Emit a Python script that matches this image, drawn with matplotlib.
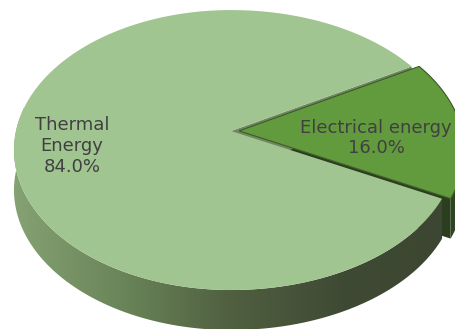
import numpy as np
import matplotlib.pyplot as plt
from matplotlib.patches import Polygon
from matplotlib.colors import LinearSegmentedColormap

# data
labels = ['Electrical energy', 'Thermal\nEnergy']
values = [16.0, 84.0]
top_colors = ['#629a3e', '#a1c591']
explode = [0.036, 0.0]
start_angle = -27.5  # degrees, electrical slice starts here

# geometry of the fake 3d pie (pixels)
cx, cy = 231, 131
rx_left, rx_right = 215, 223
ry = 137.4
k = 0.136      # perspective
depth = 40


def proj(theta, r=1.0, eu=0.0, ev=0.0, dz=0.0):
    t = np.radians(np.atleast_1d(theta))
    u = r * np.cos(t) + eu
    v = r * np.sin(t) + ev
    s = 1.0 / (1.0 + k * v)
    rx = np.where(u < 0, rx_left, rx_right)
    return np.column_stack([cx + rx * u * s, cy - ry * v * s + dz])


def wedge_top(a, b, eu, ev):
    th = np.linspace(a, b, 200)
    rim = proj(th, eu=eu, ev=ev)
    tip = proj(0.0, r=0.0, eu=eu, ev=ev)
    return np.vstack([tip, rim])


def side_band(a, b, eu, ev):
    th = np.linspace(a, b, 200)
    top = proj(th, eu=eu, ev=ev)
    bot = proj(th, eu=eu, ev=ev, dz=depth)
    return np.vstack([top, bot[::-1]])


def cut_face(theta, eu, ev):
    tip = proj(0.0, r=0.0, eu=eu, ev=ev)
    edge = proj(theta, eu=eu, ev=ev)
    return np.vstack([tip, edge, edge + [0, depth], tip + [0, depth]])


fig = plt.figure(figsize=(4.55, 3.29), dpi=100)
ax = fig.add_axes([0, 0, 1, 1])
ax.set_xlim(0, 455)
ax.set_ylim(329, 0)
ax.axis('off')

# slice angles
angles = []
a = start_angle
for v in values:
    b = a + 360 * v / sum(values)
    angles.append((a, b))
    a = b

(ea, eb) = angles[0]
(ta, tb) = angles[1]
mid = np.radians((ea + eb) / 2)
eu, ev = explode[0] * np.cos(mid), explode[0] * np.sin(mid)

# electrical slice (exploded) - sides first
ax.add_patch(Polygon(cut_face(ea, eu, ev), closed=True, fc='#2b3f1f', ec='none'))
ax.add_patch(Polygon(side_band(ea, eb, eu, ev), closed=True, fc='#2f4522', ec='none'))

# thermal cut face seen through the gap
ax.add_patch(Polygon(cut_face(ta, 0, 0), closed=True, fc='#6f8762', ec='none'))

# thermal side with horizontal gradient
band = Polygon(side_band(170, tb, 0, 0), closed=True, fc='none', ec='none')
ax.add_patch(band)
cmap = LinearSegmentedColormap.from_list('side', ['#86a374', '#6a8559', '#4f5f40', '#3f4a34', '#3c4632'])
grad = np.linspace(0, 1, 256).reshape(1, -1)
im = ax.imshow(grad, cmap=cmap, extent=[10, 455, 340, 100], aspect='auto', zorder=1)
im.set_clip_path(band)

# thermal top
ax.add_patch(Polygon(wedge_top(ta, tb, 0, 0), closed=True, fc=top_colors[1],
                     ec='none', zorder=2))

# electrical top
ax.add_patch(Polygon(wedge_top(ea, eb, eu, ev), closed=True, fc=top_colors[0],
                     ec='#3d5c28', lw=0.8, zorder=3))

# labels
ax.text(72, 146, labels[1] + '\n%.1f%%' % values[1], ha='center', va='center',
        multialignment='center', fontsize=13, color='#404040', linespacing=1.2, zorder=5)
ax.text(376, 138, labels[0] + '\n%.1f%%' % values[0], ha='center', va='center',
        multialignment='center', fontsize=13, color='#404040', linespacing=1.2, zorder=5)

fig.savefig('out.png', dpi=100)
